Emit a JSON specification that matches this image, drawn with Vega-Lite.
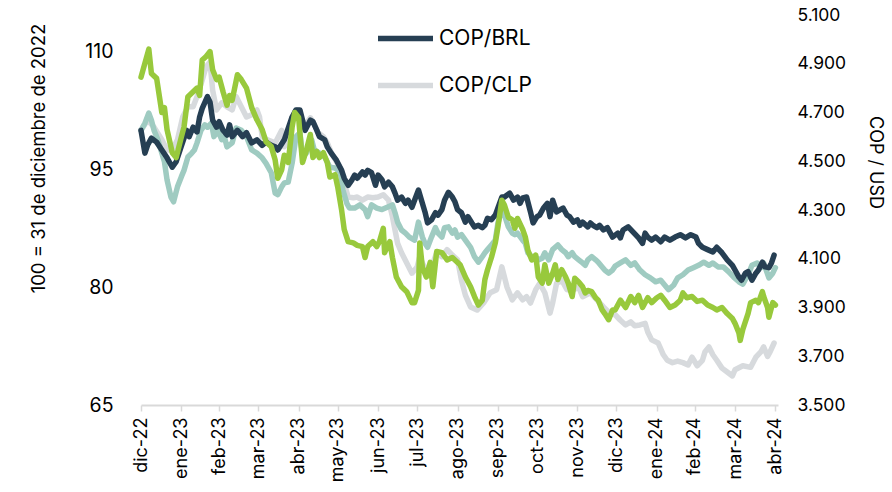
{
"$schema": "https://vega.github.io/schema/vega-lite/v6.json",
"width": 637, "height": 390,
"autosize": {"type": "none"},
"padding": {"left": 141, "top": 15, "right": 114, "bottom": 87},
"background": "white",
"config": {"view": {"stroke": null}, "font": "Inter", "axis": {"grid": false}, "axisX": {"labelOverlap": false, "labelBound": false}},
"datasets": {
"clp": [
{"d":"2022-12-30","v":100},{"d":"2023-01-04","v":101.3},{"d":"2023-01-09","v":100.4},{"d":"2023-01-15","v":98.8},{"d":"2023-01-19","v":97.5},{"d":"2023-01-23","v":97.5},{"d":"2023-01-27","v":98.8},{"d":"2023-01-31","v":101.7},{"d":"2023-02-04","v":103.0},{"d":"2023-02-08","v":103.0},{"d":"2023-02-11","v":104.3},{"d":"2023-02-15","v":106.4},{"d":"2023-02-18","v":108.1},{"d":"2023-02-21","v":108.7},{"d":"2023-02-23","v":105.1},{"d":"2023-02-26","v":102.6},{"d":"2023-03-02","v":103.5},{"d":"2023-03-06","v":103.0},{"d":"2023-03-10","v":102.6},{"d":"2023-03-13","v":104.3},{"d":"2023-03-17","v":103.0},{"d":"2023-03-21","v":101.7},{"d":"2023-03-25","v":102.0},{"d":"2023-03-29","v":102.6},{"d":"2023-03-31","v":101.7},{"d":"2023-04-02","v":99.2},{"d":"2023-04-06","v":98.8},{"d":"2023-04-12","v":98.4},{"d":"2023-04-17","v":100.0},{"d":"2023-04-19","v":97.9},{"d":"2023-04-23","v":98.8},{"d":"2023-04-25","v":101.7},{"d":"2023-04-29","v":102.6},{"d":"2023-05-02","v":100.7},{"d":"2023-05-06","v":100.9},{"d":"2023-05-09","v":101.6},{"d":"2023-05-11","v":101.1},{"d":"2023-05-15","v":99.7},{"d":"2023-05-19","v":99.2},{"d":"2023-05-22","v":98.4},{"d":"2023-05-25","v":97.2},{"d":"2023-05-29","v":96.0},{"d":"2023-06-02","v":94.9},{"d":"2023-06-04","v":93.3},{"d":"2023-06-07","v":91.5},{"d":"2023-06-11","v":91.4},{"d":"2023-06-14","v":91.5},{"d":"2023-06-18","v":91.1},{"d":"2023-06-22","v":91.5},{"d":"2023-06-26","v":91.4},{"d":"2023-06-30","v":91.5},{"d":"2023-07-04","v":91.8},{"d":"2023-07-08","v":91.1},{"d":"2023-07-11","v":89.0},{"d":"2023-07-13","v":87.3},{"d":"2023-07-15","v":85.6},{"d":"2023-07-18","v":84.4},{"d":"2023-07-22","v":83.1},{"d":"2023-07-26","v":81.8},{"d":"2023-07-30","v":82.6},{"d":"2023-08-01","v":83.9},{"d":"2023-08-03","v":83.1},{"d":"2023-08-06","v":82.2},{"d":"2023-08-10","v":82.6},{"d":"2023-08-14","v":84.4},{"d":"2023-08-18","v":83.9},{"d":"2023-08-22","v":84.8},{"d":"2023-08-26","v":84.1},{"d":"2023-08-30","v":83.5},{"d":"2023-09-02","v":80.9},{"d":"2023-09-05","v":79.0},{"d":"2023-09-09","v":77.5},{"d":"2023-09-14","v":77.1},{"d":"2023-09-19","v":78.0},{"d":"2023-09-24","v":79.3},{"d":"2023-09-29","v":79.7},{"d":"2023-10-03","v":82.6},{"d":"2023-10-07","v":80.0},{"d":"2023-10-11","v":78.4},{"d":"2023-10-15","v":79.3},{"d":"2023-10-19","v":78.4},{"d":"2023-10-22","v":78.8},{"d":"2023-10-25","v":78.0},{"d":"2023-10-29","v":79.7},{"d":"2023-11-01","v":80.5},{"d":"2023-11-05","v":79.3},{"d":"2023-11-09","v":76.7},{"d":"2023-11-11","v":78.0},{"d":"2023-11-14","v":80.5},{"d":"2023-11-18","v":80.9},{"d":"2023-11-22","v":79.7},{"d":"2023-11-27","v":79.7},{"d":"2023-12-01","v":80.0},{"d":"2023-12-04","v":78.8},{"d":"2023-12-10","v":79.3},{"d":"2023-12-15","v":78.4},{"d":"2023-12-20","v":77.5},{"d":"2023-12-25","v":76.7},{"d":"2023-12-29","v":76.5},{"d":"2024-01-02","v":75.8},{"d":"2024-01-06","v":75.2},{"d":"2024-01-10","v":75.6},{"d":"2024-01-13","v":75.1},{"d":"2024-01-17","v":75.2},{"d":"2024-01-21","v":75.4},{"d":"2024-01-23","v":74.3},{"d":"2024-01-26","v":73.3},{"d":"2024-01-31","v":72.9},{"d":"2024-02-04","v":71.4},{"d":"2024-02-07","v":70.7},{"d":"2024-02-11","v":70.4},{"d":"2024-02-15","v":70.6},{"d":"2024-02-19","v":70.4},{"d":"2024-02-23","v":70.1},{"d":"2024-02-26","v":71.1},{"d":"2024-03-01","v":70.0},{"d":"2024-03-05","v":70.7},{"d":"2024-03-07","v":71.8},{"d":"2024-03-10","v":72.4},{"d":"2024-03-13","v":71.4},{"d":"2024-03-16","v":70.7},{"d":"2024-03-20","v":69.7},{"d":"2024-03-24","v":69.2},{"d":"2024-03-28","v":68.7},{"d":"2024-03-30","v":69.5},{"d":"2024-04-05","v":70.0},{"d":"2024-04-11","v":69.8},{"d":"2024-04-15","v":71.1},{"d":"2024-04-19","v":71.8},{"d":"2024-04-21","v":72.4},{"d":"2024-04-24","v":71.2},{"d":"2024-04-26","v":71.8},{"d":"2024-04-29","v":72.9}
],
"mxn": [
{"d":"2022-12-30","v":100},{"d":"2023-01-02","v":100.9},{"d":"2023-01-05","v":102.2},{"d":"2023-01-07","v":101.3},{"d":"2023-01-09","v":100.0},{"d":"2023-01-12","v":98.8},{"d":"2023-01-15","v":97.1},{"d":"2023-01-17","v":96.0},{"d":"2023-01-19","v":93.7},{"d":"2023-01-22","v":91.5},{"d":"2023-01-24","v":90.9},{"d":"2023-01-27","v":92.8},{"d":"2023-01-30","v":94.1},{"d":"2023-02-01","v":94.9},{"d":"2023-02-04","v":96.6},{"d":"2023-02-07","v":97.1},{"d":"2023-02-09","v":97.5},{"d":"2023-02-11","v":98.4},{"d":"2023-02-14","v":100.0},{"d":"2023-02-17","v":100.7},{"d":"2023-02-19","v":100.4},{"d":"2023-02-22","v":100.9},{"d":"2023-02-24","v":99.2},{"d":"2023-02-27","v":100.0},{"d":"2023-03-02","v":98.8},{"d":"2023-03-04","v":99.2},{"d":"2023-03-06","v":97.9},{"d":"2023-03-10","v":98.4},{"d":"2023-03-13","v":100.3},{"d":"2023-03-17","v":100.0},{"d":"2023-03-21","v":99.2},{"d":"2023-03-25","v":97.5},{"d":"2023-03-29","v":97.1},{"d":"2023-04-02","v":96.5},{"d":"2023-04-05","v":95.8},{"d":"2023-04-09","v":94.6},{"d":"2023-04-12","v":92.0},{"d":"2023-04-14","v":91.8},{"d":"2023-04-17","v":92.8},{"d":"2023-04-19","v":93.3},{"d":"2023-04-22","v":93.4},{"d":"2023-04-25","v":95.8},{"d":"2023-04-28","v":99.2},{"d":"2023-05-01","v":99.7},{"d":"2023-05-03","v":96.8},{"d":"2023-05-06","v":97.1},{"d":"2023-05-10","v":98.8},{"d":"2023-05-12","v":97.5},{"d":"2023-05-16","v":97.1},{"d":"2023-05-20","v":96.6},{"d":"2023-05-24","v":95.3},{"d":"2023-05-28","v":95.2},{"d":"2023-06-01","v":94.7},{"d":"2023-06-03","v":92.4},{"d":"2023-06-06","v":90.7},{"d":"2023-06-08","v":90.1},{"d":"2023-06-12","v":90.1},{"d":"2023-06-16","v":90.5},{"d":"2023-06-20","v":89.9},{"d":"2023-06-22","v":89.0},{"d":"2023-06-25","v":90.5},{"d":"2023-06-29","v":90.1},{"d":"2023-07-03","v":89.9},{"d":"2023-07-07","v":90.2},{"d":"2023-07-11","v":90.5},{"d":"2023-07-13","v":89.5},{"d":"2023-07-15","v":88.3},{"d":"2023-07-18","v":87.3},{"d":"2023-07-21","v":86.9},{"d":"2023-07-24","v":86.4},{"d":"2023-07-28","v":86.0},{"d":"2023-07-31","v":88.3},{"d":"2023-08-03","v":86.4},{"d":"2023-08-05","v":85.6},{"d":"2023-08-07","v":85.1},{"d":"2023-08-10","v":86.4},{"d":"2023-08-13","v":87.6},{"d":"2023-08-15","v":86.9},{"d":"2023-08-18","v":86.4},{"d":"2023-08-20","v":87.6},{"d":"2023-08-23","v":87.7},{"d":"2023-08-26","v":86.9},{"d":"2023-08-28","v":87.3},{"d":"2023-08-30","v":86.4},{"d":"2023-09-02","v":86.7},{"d":"2023-09-05","v":86.0},{"d":"2023-09-09","v":85.1},{"d":"2023-09-12","v":83.9},{"d":"2023-09-15","v":83.2},{"d":"2023-09-18","v":83.9},{"d":"2023-09-20","v":84.4},{"d":"2023-09-22","v":84.8},{"d":"2023-09-25","v":85.4},{"d":"2023-09-28","v":86.0},{"d":"2023-09-30","v":88.2},{"d":"2023-10-03","v":89.9},{"d":"2023-10-05","v":89.2},{"d":"2023-10-08","v":87.7},{"d":"2023-10-11","v":86.9},{"d":"2023-10-13","v":86.7},{"d":"2023-10-15","v":86.9},{"d":"2023-10-19","v":86.0},{"d":"2023-10-21","v":85.6},{"d":"2023-10-23","v":84.4},{"d":"2023-10-26","v":83.9},{"d":"2023-10-29","v":83.9},{"d":"2023-10-31","v":83.5},{"d":"2023-11-03","v":83.7},{"d":"2023-11-05","v":84.4},{"d":"2023-11-08","v":83.5},{"d":"2023-11-11","v":84.8},{"d":"2023-11-13","v":85.1},{"d":"2023-11-15","v":85.4},{"d":"2023-11-18","v":84.8},{"d":"2023-11-21","v":84.4},{"d":"2023-11-23","v":83.9},{"d":"2023-11-26","v":84.4},{"d":"2023-11-28","v":83.9},{"d":"2023-12-01","v":83.5},{"d":"2023-12-04","v":83.1},{"d":"2023-12-06","v":82.8},{"d":"2023-12-08","v":83.5},{"d":"2023-12-11","v":83.9},{"d":"2023-12-14","v":83.5},{"d":"2023-12-16","v":83.2},{"d":"2023-12-19","v":82.6},{"d":"2023-12-21","v":82.2},{"d":"2023-12-24","v":81.8},{"d":"2023-12-27","v":82.2},{"d":"2023-12-29","v":82.7},{"d":"2024-01-02","v":83.1},{"d":"2024-01-06","v":83.5},{"d":"2024-01-10","v":82.8},{"d":"2024-01-13","v":83.1},{"d":"2024-01-17","v":82.2},{"d":"2024-01-21","v":81.6},{"d":"2024-01-25","v":81.2},{"d":"2024-01-29","v":80.7},{"d":"2024-02-02","v":80.9},{"d":"2024-02-05","v":80.3},{"d":"2024-02-08","v":79.7},{"d":"2024-02-12","v":80.3},{"d":"2024-02-15","v":81.2},{"d":"2024-02-19","v":81.6},{"d":"2024-02-23","v":82.2},{"d":"2024-02-27","v":82.5},{"d":"2024-03-02","v":82.8},{"d":"2024-03-06","v":83.2},{"d":"2024-03-10","v":82.8},{"d":"2024-03-13","v":83.1},{"d":"2024-03-17","v":82.6},{"d":"2024-03-21","v":82.6},{"d":"2024-03-25","v":82.0},{"d":"2024-03-29","v":81.3},{"d":"2024-04-02","v":80.7},{"d":"2024-04-05","v":80.4},{"d":"2024-04-09","v":81.6},{"d":"2024-04-12","v":82.8},{"d":"2024-04-16","v":83.1},{"d":"2024-04-19","v":82.5},{"d":"2024-04-21","v":83.1},{"d":"2024-04-25","v":81.2},{"d":"2024-04-28","v":81.8},{"d":"2024-04-30","v":82.5}
],
"brl": [
{"d":"2022-12-30","v":100},{"d":"2023-01-02","v":97.1},{"d":"2023-01-04","v":98.1},{"d":"2023-01-07","v":99.0},{"d":"2023-01-11","v":98.5},{"d":"2023-01-15","v":97.5},{"d":"2023-01-19","v":96.5},{"d":"2023-01-23","v":95.3},{"d":"2023-01-26","v":96.0},{"d":"2023-01-29","v":97.5},{"d":"2023-01-31","v":98.5},{"d":"2023-02-03","v":100.0},{"d":"2023-02-05","v":99.2},{"d":"2023-02-08","v":100.4},{"d":"2023-02-11","v":99.8},{"d":"2023-02-13","v":101.7},{"d":"2023-02-15","v":102.8},{"d":"2023-02-19","v":104.3},{"d":"2023-02-21","v":103.6},{"d":"2023-02-23","v":101.3},{"d":"2023-02-26","v":100.4},{"d":"2023-02-28","v":101.1},{"d":"2023-03-03","v":100.0},{"d":"2023-03-06","v":99.4},{"d":"2023-03-08","v":100.7},{"d":"2023-03-10","v":99.2},{"d":"2023-03-14","v":100.0},{"d":"2023-03-18","v":99.2},{"d":"2023-03-21","v":99.7},{"d":"2023-03-25","v":98.4},{"d":"2023-03-29","v":98.8},{"d":"2023-04-02","v":98.1},{"d":"2023-04-05","v":98.5},{"d":"2023-04-09","v":98.1},{"d":"2023-04-12","v":97.9},{"d":"2023-04-14","v":97.5},{"d":"2023-04-19","v":98.8},{"d":"2023-04-25","v":101.7},{"d":"2023-04-28","v":102.6},{"d":"2023-05-01","v":102.6},{"d":"2023-05-05","v":100.0},{"d":"2023-05-09","v":101.3},{"d":"2023-05-11","v":101.1},{"d":"2023-05-14","v":100.0},{"d":"2023-05-16","v":99.2},{"d":"2023-05-20","v":98.8},{"d":"2023-05-22","v":97.9},{"d":"2023-05-25","v":97.1},{"d":"2023-05-29","v":96.2},{"d":"2023-06-02","v":94.9},{"d":"2023-06-04","v":93.9},{"d":"2023-06-07","v":93.0},{"d":"2023-06-10","v":93.7},{"d":"2023-06-12","v":94.3},{"d":"2023-06-14","v":93.9},{"d":"2023-06-18","v":94.7},{"d":"2023-06-20","v":94.3},{"d":"2023-06-22","v":94.9},{"d":"2023-06-25","v":94.6},{"d":"2023-06-28","v":93.0},{"d":"2023-06-30","v":94.3},{"d":"2023-07-03","v":93.7},{"d":"2023-07-05","v":92.8},{"d":"2023-07-08","v":93.4},{"d":"2023-07-11","v":92.8},{"d":"2023-07-13","v":92.0},{"d":"2023-07-15","v":91.1},{"d":"2023-07-18","v":91.5},{"d":"2023-07-21","v":90.7},{"d":"2023-07-23","v":91.1},{"d":"2023-07-26","v":90.2},{"d":"2023-07-28","v":91.1},{"d":"2023-07-31","v":92.4},{"d":"2023-08-03","v":90.7},{"d":"2023-08-05","v":89.6},{"d":"2023-08-07","v":88.2},{"d":"2023-08-10","v":88.6},{"d":"2023-08-13","v":89.5},{"d":"2023-08-15","v":89.2},{"d":"2023-08-18","v":89.9},{"d":"2023-08-20","v":91.1},{"d":"2023-08-23","v":92.1},{"d":"2023-08-26","v":91.5},{"d":"2023-08-28","v":90.9},{"d":"2023-08-30","v":89.9},{"d":"2023-09-02","v":89.5},{"d":"2023-09-05","v":88.3},{"d":"2023-09-07","v":89.0},{"d":"2023-09-10","v":88.2},{"d":"2023-09-12","v":87.7},{"d":"2023-09-15","v":87.9},{"d":"2023-09-18","v":87.6},{"d":"2023-09-20","v":87.9},{"d":"2023-09-22","v":88.8},{"d":"2023-09-25","v":88.6},{"d":"2023-09-28","v":89.2},{"d":"2023-09-30","v":90.1},{"d":"2023-10-03","v":91.5},{"d":"2023-10-05","v":91.5},{"d":"2023-10-09","v":92.0},{"d":"2023-10-12","v":91.1},{"d":"2023-10-15","v":91.5},{"d":"2023-10-17","v":90.7},{"d":"2023-10-19","v":91.4},{"d":"2023-10-22","v":91.5},{"d":"2023-10-25","v":89.6},{"d":"2023-10-27","v":88.2},{"d":"2023-10-30","v":89.0},{"d":"2023-11-01","v":89.2},{"d":"2023-11-04","v":90.1},{"d":"2023-11-07","v":90.7},{"d":"2023-11-09","v":89.0},{"d":"2023-11-11","v":91.1},{"d":"2023-11-14","v":89.6},{"d":"2023-11-17","v":89.9},{"d":"2023-11-19","v":90.1},{"d":"2023-11-22","v":89.2},{"d":"2023-11-24","v":89.0},{"d":"2023-11-27","v":88.3},{"d":"2023-11-30","v":88.6},{"d":"2023-12-02","v":87.9},{"d":"2023-12-04","v":88.3},{"d":"2023-12-08","v":87.7},{"d":"2023-12-10","v":88.2},{"d":"2023-12-12","v":87.9},{"d":"2023-12-15","v":87.6},{"d":"2023-12-17","v":87.9},{"d":"2023-12-20","v":87.3},{"d":"2023-12-23","v":87.6},{"d":"2023-12-25","v":87.0},{"d":"2023-12-27","v":86.4},{"d":"2023-12-31","v":86.9},{"d":"2024-01-02","v":86.3},{"d":"2024-01-04","v":87.3},{"d":"2024-01-08","v":87.7},{"d":"2024-01-12","v":87.0},{"d":"2024-01-16","v":86.3},{"d":"2024-01-19","v":85.6},{"d":"2024-01-21","v":86.9},{"d":"2024-01-23","v":86.4},{"d":"2024-01-26","v":86.0},{"d":"2024-01-29","v":86.4},{"d":"2024-02-02","v":85.8},{"d":"2024-02-05","v":86.4},{"d":"2024-02-09","v":86.0},{"d":"2024-02-13","v":86.4},{"d":"2024-02-17","v":86.7},{"d":"2024-02-21","v":86.3},{"d":"2024-02-25","v":86.7},{"d":"2024-02-29","v":86.4},{"d":"2024-03-02","v":85.6},{"d":"2024-03-05","v":85.1},{"d":"2024-03-09","v":84.8},{"d":"2024-03-13","v":84.5},{"d":"2024-03-16","v":85.1},{"d":"2024-03-20","v":84.4},{"d":"2024-03-24","v":83.5},{"d":"2024-03-28","v":82.8},{"d":"2024-03-30","v":82.2},{"d":"2024-04-02","v":81.3},{"d":"2024-04-04","v":80.9},{"d":"2024-04-07","v":81.8},{"d":"2024-04-09","v":82.0},{"d":"2024-04-12","v":80.9},{"d":"2024-04-15","v":81.8},{"d":"2024-04-17","v":82.2},{"d":"2024-04-20","v":83.2},{"d":"2024-04-22","v":82.6},{"d":"2024-04-25","v":82.5},{"d":"2024-04-27","v":83.1},{"d":"2024-04-29","v":84.1}
],
"usd": [
{"d":"2022-12-30","v":4845},{"d":"2023-01-05","v":4960},{"d":"2023-01-07","v":4860},{"d":"2023-01-11","v":4840},{"d":"2023-01-15","v":4700},{"d":"2023-01-17","v":4720},{"d":"2023-01-19","v":4630},{"d":"2023-01-23","v":4535},{"d":"2023-01-26","v":4515},{"d":"2023-01-30","v":4600},{"d":"2023-02-01","v":4640},{"d":"2023-02-04","v":4765},{"d":"2023-02-08","v":4785},{"d":"2023-02-11","v":4800},{"d":"2023-02-13","v":4770},{"d":"2023-02-15","v":4915},{"d":"2023-02-18","v":4930},{"d":"2023-02-21","v":4950},{"d":"2023-02-23","v":4875},{"d":"2023-02-26","v":4835},{"d":"2023-02-28","v":4845},{"d":"2023-03-03","v":4785},{"d":"2023-03-06","v":4730},{"d":"2023-03-08","v":4770},{"d":"2023-03-10","v":4750},{"d":"2023-03-14","v":4855},{"d":"2023-03-17","v":4835},{"d":"2023-03-21","v":4800},{"d":"2023-03-25","v":4720},{"d":"2023-03-29","v":4670},{"d":"2023-04-02","v":4630},{"d":"2023-04-05","v":4580},{"d":"2023-04-09","v":4560},{"d":"2023-04-12","v":4505},{"d":"2023-04-14","v":4430},{"d":"2023-04-17","v":4465},{"d":"2023-04-19","v":4525},{"d":"2023-04-22","v":4495},{"d":"2023-04-25","v":4640},{"d":"2023-04-27","v":4700},{"d":"2023-04-30","v":4680},{"d":"2023-05-01","v":4615},{"d":"2023-05-03","v":4495},{"d":"2023-05-06","v":4545},{"d":"2023-05-09","v":4610},{"d":"2023-05-11","v":4515},{"d":"2023-05-14","v":4540},{"d":"2023-05-16","v":4515},{"d":"2023-05-19","v":4535},{"d":"2023-05-22","v":4495},{"d":"2023-05-24","v":4435},{"d":"2023-05-28","v":4445},{"d":"2023-05-30","v":4395},{"d":"2023-06-02","v":4300},{"d":"2023-06-04","v":4220},{"d":"2023-06-07","v":4170},{"d":"2023-06-11","v":4165},{"d":"2023-06-14","v":4155},{"d":"2023-06-18","v":4150},{"d":"2023-06-20","v":4105},{"d":"2023-06-22","v":4150},{"d":"2023-06-26","v":4170},{"d":"2023-06-29","v":4150},{"d":"2023-07-01","v":4170},{"d":"2023-07-04","v":4225},{"d":"2023-07-05","v":4125},{"d":"2023-07-09","v":4170},{"d":"2023-07-11","v":4105},{"d":"2023-07-14","v":4025},{"d":"2023-07-18","v":3985},{"d":"2023-07-22","v":3965},{"d":"2023-07-26","v":3920},{"d":"2023-07-28","v":3920},{"d":"2023-07-31","v":3970},{"d":"2023-08-01","v":4165},{"d":"2023-08-03","v":4065},{"d":"2023-08-06","v":4025},{"d":"2023-08-09","v":4085},{"d":"2023-08-11","v":3985},{"d":"2023-08-14","v":4130},{"d":"2023-08-18","v":4125},{"d":"2023-08-22","v":4095},{"d":"2023-08-26","v":4105},{"d":"2023-08-28","v":4095},{"d":"2023-09-01","v":4075},{"d":"2023-09-05","v":4025},{"d":"2023-09-09","v":3985},{"d":"2023-09-12","v":3945},{"d":"2023-09-15","v":3910},{"d":"2023-09-18","v":3930},{"d":"2023-09-20","v":4015},{"d":"2023-09-22","v":4055},{"d":"2023-09-25","v":4105},{"d":"2023-09-28","v":4165},{"d":"2023-09-30","v":4230},{"d":"2023-10-03","v":4340},{"d":"2023-10-05","v":4320},{"d":"2023-10-08","v":4270},{"d":"2023-10-11","v":4260},{"d":"2023-10-13","v":4225},{"d":"2023-10-15","v":4265},{"d":"2023-10-19","v":4220},{"d":"2023-10-21","v":4190},{"d":"2023-10-23","v":4135},{"d":"2023-10-26","v":4095},{"d":"2023-10-29","v":4115},{"d":"2023-10-31","v":4025},{"d":"2023-11-03","v":4000},{"d":"2023-11-05","v":4075},{"d":"2023-11-08","v":4000},{"d":"2023-11-11","v":4040},{"d":"2023-11-13","v":4075},{"d":"2023-11-15","v":4015},{"d":"2023-11-18","v":4055},{"d":"2023-11-21","v":4025},{"d":"2023-11-23","v":4000},{"d":"2023-11-26","v":3945},{"d":"2023-11-28","v":4020},{"d":"2023-12-01","v":4005},{"d":"2023-12-04","v":3985},{"d":"2023-12-06","v":3960},{"d":"2023-12-08","v":3970},{"d":"2023-12-11","v":3965},{"d":"2023-12-14","v":3940},{"d":"2023-12-16","v":3930},{"d":"2023-12-19","v":3890},{"d":"2023-12-21","v":3875},{"d":"2023-12-24","v":3850},{"d":"2023-12-27","v":3890},{"d":"2023-12-29","v":3890},{"d":"2024-01-02","v":3930},{"d":"2024-01-06","v":3900},{"d":"2024-01-10","v":3945},{"d":"2024-01-13","v":3920},{"d":"2024-01-16","v":3950},{"d":"2024-01-19","v":3900},{"d":"2024-01-23","v":3940},{"d":"2024-01-26","v":3920},{"d":"2024-01-30","v":3940},{"d":"2024-02-02","v":3950},{"d":"2024-02-05","v":3930},{"d":"2024-02-09","v":3900},{"d":"2024-02-13","v":3910},{"d":"2024-02-17","v":3930},{"d":"2024-02-19","v":3960},{"d":"2024-02-22","v":3940},{"d":"2024-02-26","v":3945},{"d":"2024-03-01","v":3925},{"d":"2024-03-05","v":3930},{"d":"2024-03-09","v":3910},{"d":"2024-03-13","v":3900},{"d":"2024-03-16","v":3890},{"d":"2024-03-20","v":3900},{"d":"2024-03-24","v":3875},{"d":"2024-03-28","v":3855},{"d":"2024-03-30","v":3835},{"d":"2024-04-02","v":3795},{"d":"2024-04-03","v":3765},{"d":"2024-04-05","v":3810},{"d":"2024-04-09","v":3875},{"d":"2024-04-11","v":3920},{"d":"2024-04-15","v":3930},{"d":"2024-04-17","v":3920},{"d":"2024-04-20","v":3965},{"d":"2024-04-21","v":3945},{"d":"2024-04-24","v":3900},{"d":"2024-04-25","v":3860},{"d":"2024-04-28","v":3920},{"d":"2024-04-30","v":3910}
]
},
"layer": [
{
"layer": [
{"data": {"name": "clp"},
 "mark": {"type": "line", "strokeWidth": 5.5, "strokeJoin": "round", "strokeCap": "round"},
 "encoding": {
  "x": {"field": "d", "type": "temporal",
   "scale": {"type": "utc", "domain": [{"year": 2022, "month": 12, "date": 30, "utc": true}, {"year": 2024, "month": 5, "date": 2, "utc": true}]},
   "axis": {"title": null, "tickCount": 40,
    "values": [{"year":2022,"month":12,"date":30,"utc":true},{"year":2023,"month":1,"date":30,"utc":true},{"year":2023,"month":2,"date":28,"utc":true},{"year":2023,"month":3,"date":30,"utc":true},{"year":2023,"month":4,"date":30,"utc":true},{"year":2023,"month":5,"date":30,"utc":true},{"year":2023,"month":6,"date":30,"utc":true},{"year":2023,"month":7,"date":30,"utc":true},{"year":2023,"month":8,"date":30,"utc":true},{"year":2023,"month":9,"date":30,"utc":true},{"year":2023,"month":10,"date":30,"utc":true},{"year":2023,"month":11,"date":30,"utc":true},{"year":2023,"month":12,"date":30,"utc":true},{"year":2024,"month":1,"date":30,"utc":true},{"year":2024,"month":2,"date":28,"utc":true},{"year":2024,"month":3,"date":30,"utc":true},{"year":2024,"month":4,"date":30,"utc":true}],
    "labelExpr": "['ene','feb','mar','abr','may','jun','jul','ago','sep','oct','nov','dic'][utcmonth(datum.value)] + '-' + utcFormat(datum.value, '%y')",
    "labelAngle": -90, "labelAlign": "right", "labelBaseline": "middle",
    "labelFontSize": 18, "labelColor": "#000000", "labelPadding": 6,
    "labelOverlap": false, "labelFlush": false, "labelBound": false,
    "tickColor": "#d9d9d9", "tickSize": 6, "tickWidth": 1.5,
    "domainColor": "#d9d9d9", "domainWidth": 2}},
  "y": {"field": "v", "type": "quantitative",
   "scale": {"domain": [65, 114.7], "nice": false, "zero": false},
   "axis": {"orient": "left", "values": [65, 80, 95, 110], "tickCount": 10, "domain": false, "ticks": false,
    "labelFontSize": 19.5, "labelPadding": 28, "labelColor": "#000000",
    "title": "100 = 31 de diciembre de 2022", "titleFontSize": 18.5, "titleFontWeight": "normal", "titleColor": "#000000",
    "titleAngle": -90, "titleX": -103, "titleY": 143, "titleAlign": "center", "titleBaseline": "middle"}},
  "color": {"datum": "COP/CLP", "type": "nominal",
   "scale": {"domain": ["COP/BRL", "COP/CLP", "COP/MXN", "COP/USD"], "range": ["#263f53", "#d7dadd", "#9fcbc1", "#98c93c"]},
   "legend": {"orient": "none", "legendX": 254, "legendY": 13, "values": ["COP/BRL", "COP/CLP"], "title": null,
    "symbolType": "M-5.5,0H5.5", "symbolSize": 100, "symbolStrokeWidth": 5.5,
    "labelFontSize": 21, "labelOffset": 23, "rowPadding": 24, "labelColor": "#000000"}}
 }},
{"data": {"name": "mxn"},
 "mark": {"type": "line", "strokeWidth": 5.5, "strokeJoin": "round", "strokeCap": "round"},
 "encoding": {
  "x": {"field": "d", "type": "temporal"},
  "y": {"field": "v", "type": "quantitative"},
  "color": {"datum": "COP/MXN", "type": "nominal"}
 }},
{"data": {"name": "brl"},
 "mark": {"type": "line", "strokeWidth": 5.5, "strokeJoin": "round", "strokeCap": "round"},
 "encoding": {
  "x": {"field": "d", "type": "temporal"},
  "y": {"field": "v", "type": "quantitative"},
  "color": {"datum": "COP/BRL", "type": "nominal"}
 }}
]
},
{"data": {"name": "usd"},
 "mark": {"type": "line", "strokeWidth": 5.5, "strokeJoin": "round", "strokeCap": "round"},
 "encoding": {
  "x": {"field": "d", "type": "temporal"},
  "y": {"field": "v", "type": "quantitative",
   "scale": {"domain": [3500, 5100], "nice": false, "zero": false},
   "axis": {"orient": "right", "values": [3500, 3700, 3900, 4100, 4300, 4500, 4700, 4900, 5100], "tickCount": 20,
    "labelExpr": "replace(format(datum.value, ','), ',', '.')",
    "domain": false, "ticks": false, "labelFontSize": 17.5, "labelPadding": 19, "labelColor": "#000000",
    "title": "COP / USD", "titleFontSize": 18, "titleFontWeight": "normal", "titleColor": "#000000",
    "titleAngle": 90, "titleX": 96, "titleY": 147, "titleAlign": "center", "titleBaseline": "middle"}},
  "color": {"datum": "COP/USD", "type": "nominal"}
 }}
],
"resolve": {"scale": {"y": "independent"}}
}
